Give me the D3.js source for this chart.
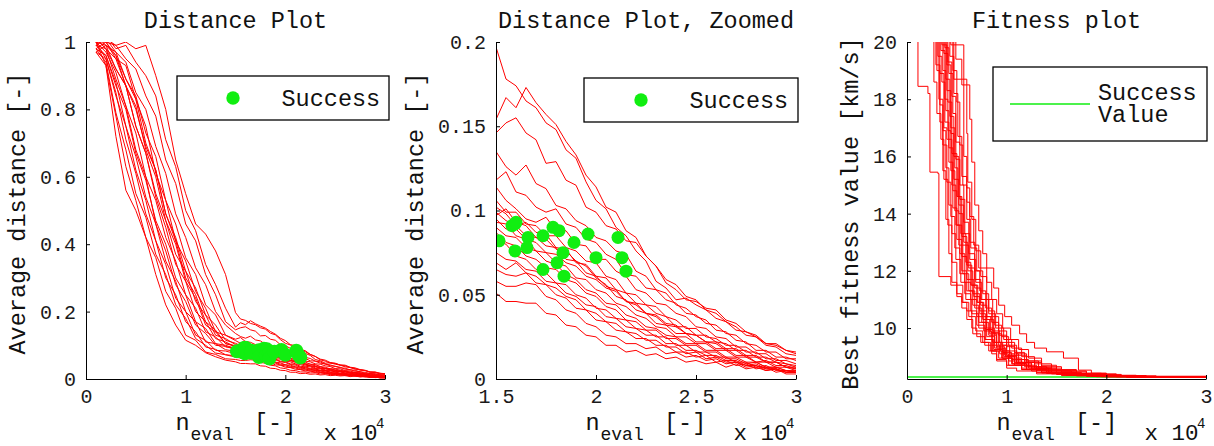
<!DOCTYPE html>
<html>
<head>
<meta charset="utf-8">
<script src="https://cdn.jsdelivr.net/npm/d3@7"></script>
<style>
body { margin: 0; background: #fff; }
svg text { font-family: "Liberation Mono", "Courier New", monospace; fill: #111; }
</style>
</head>
<body>
<div id="chart"></div>
<script>
// number of evaluations, in units of 10^4
var nEval = [0.1, 0.2, 0.3, 0.4, 0.5, 0.6, 0.7, 0.8, 0.9, 1.0, 1.1, 1.2, 1.3, 1.4,
    1.5, 1.55, 1.6, 1.65, 1.7, 1.75, 1.8, 1.85, 1.9, 1.95, 2.0, 2.05, 2.1, 2.15, 2.2, 2.25,
    2.3, 2.35, 2.4, 2.45, 2.5, 2.55, 2.6, 2.65, 2.7, 2.75, 2.8, 2.85, 2.9, 2.95, 3.0];

// average distance of each run, one value per nEval entry
var distRuns = [
  [1.02,1.01,0.99,1.0,0.98,0.99,0.9,0.8,0.65,0.55,0.46,0.43,0.38,0.31, 0.197,0.178,0.174,0.165,0.161,0.152,0.148,0.136,0.131,0.117,0.106,0.101,0.09,0.085,0.076,0.07,0.058,0.054,0.047,0.048,0.044,0.041,0.036,0.034,0.029,0.028,0.025,0.021,0.02,0.017,0.015],
  [1.0,1.02,0.98,0.99,0.94,0.9,0.84,0.71,0.63,0.5,0.44,0.34,0.28,0.21, 0.154,0.167,0.161,0.173,0.164,0.157,0.151,0.141,0.133,0.121,0.114,0.102,0.099,0.088,0.084,0.073,0.067,0.057,0.053,0.047,0.046,0.042,0.041,0.035,0.033,0.028,0.026,0.021,0.021,0.017,0.016],
  [1.03,1.0,0.99,0.95,0.92,0.84,0.78,0.65,0.58,0.46,0.41,0.31,0.25,0.17, 0.146,0.152,0.155,0.146,0.142,0.128,0.129,0.118,0.115,0.102,0.099,0.091,0.089,0.082,0.081,0.073,0.067,0.059,0.056,0.049,0.047,0.041,0.039,0.034,0.031,0.026,0.025,0.02,0.019,0.015,0.014],
  [0.99,1.01,0.97,0.94,0.85,0.8,0.69,0.61,0.49,0.42,0.33,0.28,0.2,0.16, 0.135,0.126,0.121,0.127,0.116,0.113,0.103,0.101,0.094,0.091,0.084,0.082,0.076,0.074,0.064,0.061,0.053,0.051,0.044,0.042,0.037,0.035,0.029,0.028,0.023,0.022,0.017,0.017,0.013,0.013,0.011],
  [1.0,0.99,0.96,0.89,0.84,0.73,0.66,0.53,0.46,0.36,0.31,0.22,0.19,0.13, 0.118,0.123,0.111,0.109,0.102,0.099,0.101,0.092,0.09,0.083,0.081,0.074,0.071,0.062,0.061,0.054,0.053,0.047,0.045,0.039,0.038,0.033,0.032,0.027,0.026,0.021,0.02,0.016,0.016,0.012,0.012],
  [0.98,1.0,0.95,0.93,0.83,0.75,0.61,0.53,0.41,0.35,0.26,0.21,0.14,0.13, 0.114,0.106,0.101,0.095,0.093,0.096,0.088,0.088,0.08,0.079,0.071,0.071,0.064,0.061,0.053,0.051,0.045,0.044,0.039,0.037,0.031,0.03,0.025,0.024,0.019,0.019,0.015,0.015,0.011,0.011,0.009],
  [1.01,0.98,0.95,0.87,0.8,0.69,0.62,0.49,0.42,0.32,0.27,0.19,0.16,0.115, 0.106,0.099,0.099,0.092,0.091,0.085,0.085,0.078,0.076,0.07,0.069,0.061,0.059,0.051,0.05,0.044,0.043,0.037,0.035,0.03,0.03,0.025,0.024,0.02,0.02,0.016,0.016,0.012,0.012,0.009,0.008],
  [0.97,0.99,0.92,0.87,0.75,0.67,0.55,0.47,0.37,0.32,0.23,0.19,0.13,0.12, 0.102,0.098,0.091,0.093,0.087,0.086,0.078,0.077,0.069,0.068,0.061,0.06,0.053,0.051,0.045,0.044,0.039,0.037,0.031,0.031,0.026,0.026,0.022,0.021,0.017,0.017,0.013,0.013,0.01,0.009,0.007],
  [1.0,1.0,0.96,0.87,0.81,0.68,0.6,0.47,0.4,0.29,0.24,0.16,0.14,0.105, 0.099,0.094,0.091,0.085,0.084,0.079,0.078,0.071,0.07,0.063,0.061,0.055,0.053,0.046,0.045,0.039,0.037,0.032,0.031,0.027,0.026,0.022,0.022,0.018,0.018,0.014,0.014,0.01,0.01,0.007,0.007],
  [1.02,0.99,0.97,0.89,0.83,0.7,0.62,0.49,0.41,0.3,0.25,0.17,0.145,0.105, 0.097,0.101,0.093,0.091,0.084,0.083,0.077,0.076,0.07,0.067,0.06,0.056,0.049,0.047,0.041,0.039,0.033,0.032,0.027,0.027,0.022,0.022,0.018,0.018,0.014,0.014,0.01,0.011,0.008,0.008,0.006],
  [0.99,0.98,0.92,0.87,0.75,0.67,0.54,0.45,0.34,0.29,0.2,0.17,0.12,0.11, 0.095,0.089,0.089,0.083,0.081,0.075,0.074,0.069,0.067,0.061,0.059,0.054,0.052,0.046,0.044,0.039,0.038,0.033,0.032,0.027,0.026,0.022,0.021,0.017,0.017,0.013,0.013,0.01,0.01,0.007,0.006],
  [1.0,0.97,0.91,0.81,0.73,0.6,0.53,0.42,0.35,0.25,0.21,0.14,0.125,0.095, 0.093,0.092,0.085,0.083,0.076,0.075,0.069,0.067,0.06,0.059,0.053,0.051,0.045,0.043,0.038,0.036,0.031,0.03,0.025,0.025,0.021,0.021,0.017,0.017,0.013,0.013,0.01,0.01,0.007,0.007,0.005],
  [0.98,0.96,0.87,0.8,0.67,0.59,0.47,0.4,0.3,0.25,0.17,0.15,0.105,0.1, 0.09,0.085,0.084,0.078,0.076,0.07,0.068,0.062,0.059,0.053,0.051,0.045,0.044,0.038,0.036,0.031,0.03,0.026,0.025,0.021,0.021,0.017,0.017,0.013,0.013,0.01,0.01,0.007,0.007,0.005,0.005],
  [1.01,0.98,0.89,0.81,0.68,0.6,0.46,0.38,0.28,0.23,0.16,0.135,0.1,0.097, 0.087,0.081,0.079,0.073,0.071,0.066,0.065,0.059,0.057,0.051,0.049,0.043,0.041,0.035,0.034,0.029,0.029,0.024,0.024,0.02,0.02,0.016,0.016,0.012,0.012,0.009,0.01,0.007,0.007,0.005,0.004],
  [0.99,0.96,0.88,0.75,0.66,0.54,0.46,0.35,0.29,0.2,0.17,0.11,0.105,0.087, 0.082,0.08,0.073,0.071,0.065,0.063,0.057,0.056,0.05,0.048,0.042,0.041,0.036,0.035,0.03,0.029,0.025,0.025,0.02,0.02,0.016,0.016,0.013,0.013,0.01,0.01,0.007,0.008,0.005,0.005,0.004],
  [0.97,0.95,0.84,0.75,0.62,0.53,0.41,0.34,0.24,0.2,0.13,0.115,0.085,0.083, 0.075,0.071,0.07,0.065,0.064,0.058,0.057,0.051,0.049,0.044,0.043,0.037,0.036,0.031,0.03,0.026,0.026,0.021,0.021,0.017,0.017,0.014,0.014,0.011,0.011,0.008,0.009,0.006,0.006,0.004,0.004],
  [1.0,0.95,0.85,0.71,0.61,0.49,0.41,0.3,0.25,0.17,0.14,0.095,0.088,0.072, 0.069,0.065,0.069,0.063,0.061,0.056,0.054,0.049,0.047,0.041,0.039,0.034,0.033,0.028,0.027,0.023,0.023,0.019,0.019,0.015,0.016,0.012,0.013,0.01,0.01,0.008,0.008,0.006,0.006,0.004,0.004],
  [0.98,0.94,0.79,0.68,0.55,0.48,0.37,0.31,0.22,0.18,0.12,0.1,0.077,0.072, 0.065,0.062,0.061,0.063,0.057,0.056,0.05,0.048,0.042,0.041,0.035,0.034,0.029,0.028,0.024,0.024,0.02,0.02,0.016,0.016,0.013,0.014,0.01,0.011,0.008,0.009,0.006,0.007,0.004,0.005,0.004],
  [0.97,0.93,0.78,0.63,0.53,0.42,0.36,0.26,0.21,0.13,0.115,0.08,0.073,0.06, 0.058,0.055,0.055,0.057,0.056,0.049,0.047,0.041,0.039,0.033,0.031,0.026,0.025,0.021,0.021,0.018,0.019,0.015,0.016,0.013,0.014,0.011,0.012,0.009,0.01,0.007,0.008,0.005,0.006,0.003,0.003],
  [1.0,0.93,0.72,0.56,0.5,0.42,0.31,0.22,0.16,0.115,0.1,0.078,0.066,0.056, 0.051,0.046,0.046,0.045,0.045,0.039,0.038,0.032,0.031,0.026,0.025,0.02,0.02,0.016,0.017,0.014,0.015,0.012,0.013,0.01,0.011,0.009,0.01,0.007,0.009,0.006,0.007,0.005,0.006,0.004,0.004]
];

// point where each run reached the success value
var successN    = [1.515, 1.58, 1.595, 1.6, 1.595, 1.66, 1.655, 1.735, 1.735, 1.785, 1.815, 1.805, 1.835, 1.84, 1.89, 1.96, 2.0, 2.11, 2.13, 2.15];
var successDist = [0.082, 0.091, 0.092, 0.093, 0.076, 0.084, 0.078, 0.085, 0.065, 0.09, 0.088, 0.069, 0.075, 0.061, 0.081, 0.086, 0.072, 0.084, 0.072, 0.064];

// best fitness value [km/s] of each run, as [nEval, value] steps
var fitRuns = [
  [[0.1,30],[0.11,18.45],[0.21,18.2],[0.23,15.45],[0.31,15.4],[0.32,11.8],[0.44,11.5],[0.5,11.1],[0.55,10.7],[0.6,10.3],[0.66,9.8],[0.74,9.5],[0.82,9.2],[0.9,8.9],[1.0,8.7],[1.15,8.55],[1.3,8.45],[1.5,8.38],[1.8,8.32],[2.2,8.29],[3.0,8.29]],
  [[0.27,30],[0.29,19.2],[0.33,17.8],[0.36,16.4],[0.4,15.1],[0.44,13.9],[0.48,12.8],[0.53,11.9],[0.58,11.2],[0.64,10.6],[0.7,10.1],[0.78,9.6],[0.86,9.2],[0.95,8.95],[1.05,8.75],[1.2,8.55],[1.4,8.42],[1.6,8.35],[1.9,8.31],[2.3,8.29],[3.0,8.28]],
  [[0.3,30],[0.31,19.5],[0.35,18.6],[0.38,17.2],[0.42,15.8],[0.46,14.2],[0.5,13.1],[0.55,12.0],[0.6,11.3],[0.66,10.8],[0.72,10.2],[0.8,9.7],[0.88,9.3],[0.97,9.0],[1.08,8.7],[1.25,8.5],[1.45,8.4],[1.7,8.33],[2.0,8.3],[3.0,8.29]],
  [[0.32,30],[0.33,18.9],[0.37,17.0],[0.4,16.6],[0.45,15.0],[0.49,13.6],[0.53,12.6],[0.58,11.6],[0.64,11.0],[0.7,10.4],[0.77,9.9],[0.85,9.4],[0.93,9.1],[1.02,8.85],[1.15,8.6],[1.35,8.45],[1.55,8.37],[1.85,8.31],[2.2,8.29],[3.0,8.28]],
  [[0.34,30],[0.35,19.9],[0.4,18.3],[0.44,16.8],[0.47,15.2],[0.52,14.0],[0.56,12.9],[0.62,12.1],[0.68,11.4],[0.74,10.8],[0.8,10.3],[0.87,9.8],[0.95,9.4],[1.03,9.1],[1.12,8.8],[1.28,8.6],[1.45,8.45],[1.7,8.36],[2.05,8.31],[3.0,8.29]],
  [[0.36,30],[0.37,19.6],[0.41,17.9],[0.45,16.1],[0.5,14.6],[0.54,13.3],[0.59,12.3],[0.64,11.5],[0.7,10.9],[0.76,10.3],[0.83,9.8],[0.9,9.3],[0.99,9.0],[1.1,8.75],[1.25,8.55],[1.45,8.42],[1.7,8.34],[2.1,8.3],[3.0,8.28]],
  [[0.38,30],[0.39,18.7],[0.43,17.4],[0.47,16.0],[0.52,14.3],[0.57,13.0],[0.61,12.0],[0.66,11.2],[0.73,10.6],[0.8,10.0],[0.88,9.5],[0.96,9.15],[1.05,8.9],[1.18,8.65],[1.35,8.5],[1.55,8.4],[1.8,8.33],[2.2,8.3],[3.0,8.29]],
  [[0.4,30],[0.41,19.3],[0.45,18.1],[0.49,16.5],[0.53,15.0],[0.57,13.7],[0.62,12.6],[0.68,11.7],[0.74,11.0],[0.8,10.4],[0.86,9.9],[0.93,9.5],[1.0,9.2],[1.1,8.9],[1.22,8.65],[1.4,8.5],[1.65,8.38],[1.95,8.32],[2.4,8.29],[3.0,8.28]],
  [[0.43,30],[0.44,19.9],[0.47,18.7],[0.6,16.8],[0.61,15.1],[0.65,13.8],[0.69,12.7],[0.74,11.8],[0.8,11.0],[0.86,10.4],[0.92,9.9],[1.0,9.5],[1.08,9.15],[1.18,8.85],[1.32,8.6],[1.5,8.45],[1.75,8.36],[2.1,8.31],[3.0,8.29]],
  [[0.46,30],[0.47,19.9],[0.57,16.0],[0.6,14.9],[0.63,13.9],[0.67,12.9],[0.72,12.1],[0.87,11.4],[0.92,10.8],[0.98,10.4],[1.05,10.1],[1.13,9.8],[1.2,9.5],[1.28,9.3],[1.4,9.17],[1.57,8.95],[1.72,8.53],[1.85,8.42],[2.0,8.35],[2.3,8.3],[3.0,8.29]],
  [[0.48,30],[0.49,19.4],[0.55,18.5],[0.63,17.3],[0.65,15.8],[0.68,14.3],[0.72,13.4],[0.76,12.6],[0.8,11.6],[0.85,11.0],[0.9,10.5],[0.96,10.0],[1.04,9.6],[1.12,9.25],[1.22,8.95],[1.35,8.7],[1.5,8.52],[1.7,8.42],[1.95,8.34],[2.3,8.3],[3.0,8.29]],
  [[0.31,30],[0.32,18.0],[0.36,16.9],[0.39,15.6],[0.42,14.3],[0.45,13.3],[0.49,12.4],[0.54,11.6],[0.59,11.0],[0.65,10.5],[0.72,10.0],[0.79,9.6],[0.87,9.25],[0.96,8.95],[1.06,8.75],[1.2,8.55],[1.4,8.43],[1.65,8.35],[2.0,8.3],[3.0,8.28]],
  [[0.29,30],[0.3,19.0],[0.33,17.2],[0.36,15.5],[0.39,13.8],[0.42,12.6],[0.45,11.6],[0.5,11.2],[0.55,10.9],[0.6,10.6],[0.65,10.0],[0.7,9.7],[0.78,9.4],[0.85,9.1],[0.9,8.85],[1.0,8.6],[1.1,8.5],[1.3,8.4],[1.55,8.34],[1.9,8.3],[3.0,8.28]],
  [[0.33,30],[0.34,19.7],[0.38,18.0],[0.41,16.9],[0.44,15.5],[0.48,14.1],[0.52,12.9],[0.56,11.9],[0.62,11.3],[0.68,10.7],[0.75,10.2],[0.82,9.75],[0.9,9.35],[0.98,9.05],[1.08,8.8],[1.22,8.6],[1.42,8.46],[1.68,8.37],[2.0,8.31],[3.0,8.29]],
  [[0.35,30],[0.36,19.0],[0.39,17.6],[0.42,16.3],[0.46,14.8],[0.5,13.6],[0.55,12.5],[0.6,11.7],[0.67,11.1],[0.73,10.5],[0.79,9.95],[0.86,9.5],[0.94,9.2],[1.03,8.95],[1.15,8.7],[1.3,8.52],[1.5,8.4],[1.8,8.33],[2.2,8.29],[3.0,8.28]],
  [[0.37,30],[0.38,19.8],[0.42,18.9],[0.46,17.5],[0.49,15.9],[0.53,14.5],[0.58,13.3],[0.63,12.4],[0.69,11.6],[0.75,11.0],[0.82,10.5],[0.89,10.0],[0.97,9.6],[1.05,9.3],[1.15,9.0],[1.28,8.75],[1.45,8.55],[1.7,8.42],[2.0,8.34],[2.4,8.3],[3.0,8.29]],
  [[0.39,30],[0.4,19.2],[0.44,17.0],[0.48,15.6],[0.51,14.6],[0.55,13.2],[0.6,12.2],[0.65,11.5],[0.71,10.9],[0.77,10.4],[0.84,9.85],[0.92,9.4],[1.0,9.05],[1.1,8.8],[1.25,8.6],[1.45,8.45],[1.7,8.36],[2.1,8.3],[3.0,8.29]],
  [[0.42,30],[0.43,19.5],[0.47,18.2],[0.51,16.7],[0.55,15.3],[0.6,14.4],[0.63,13.0],[0.68,12.0],[0.73,11.3],[0.79,10.7],[0.85,10.2],[0.92,9.75],[1.0,9.35],[1.08,9.05],[1.2,8.8],[1.35,8.6],[1.55,8.47],[1.8,8.38],[2.15,8.31],[3.0,8.29]],
  [[0.26,30],[0.27,18.6],[0.3,17.5],[0.34,16.6],[0.37,15.2],[0.41,13.6],[0.45,12.3],[0.5,11.5],[0.56,10.9],[0.62,10.4],[0.69,9.9],[0.76,9.5],[0.84,9.2],[0.92,8.95],[1.02,8.7],[1.15,8.55],[1.35,8.43],[1.6,8.35],[1.95,8.3],[3.0,8.28]],
  [[0.45,30],[0.46,19.0],[0.5,17.9],[0.53,16.4],[0.56,15.0],[0.6,13.8],[0.64,12.8],[0.7,12.0],[0.76,11.2],[0.82,10.6],[0.88,10.1],[0.95,9.7],[1.02,9.4],[1.1,9.1],[1.2,8.85],[1.35,8.65],[1.55,8.5],[1.8,8.4],[2.1,8.33],[2.5,8.3],[3.0,8.29]]
];
var successValue = 8.29;

// tick values
var distXTicks = [0, 1, 2, 3];
var distYTicks = [0, 0.2, 0.4, 0.6, 0.8, 1];
var zoomXTicks = [1.5, 2, 2.5, 3];
var zoomYTicks = [0, 0.05, 0.1, 0.15, 0.2];
var fitXTicks = [0, 1, 2, 3];
var fitYTicks = [10, 12, 14, 16, 18, 20];

var RED = "#ff0000", GREEN = "#11ee11";

var svg = d3.select("#chart").append("svg")
    .attr("width", 1214)
    .attr("height", 446);

function makePanel(cfg){
    var p = {};
    p.x = d3.scaleLinear().domain(cfg.xDomain).range([cfg.left, cfg.right]);
    p.y = d3.scaleLinear().domain(cfg.yDomain).range([379, 42]);

    svg.append("clipPath").attr("id", "clip" + cfg.id)
      .append("rect")
        .attr("x", cfg.left).attr("y", 42)
        .attr("width", cfg.right - cfg.left).attr("height", 379 - 42);

    p.plot = svg.append("g").attr("clip-path", "url(#clip" + cfg.id + ")");

    var xAxis = svg.append("g")
        .attr("transform", "translate(0,379)")
        .call(d3.axisBottom(p.x).tickValues(cfg.xTicks).tickSizeInner(-4).tickSizeOuter(0)
              .tickPadding(10).tickFormat(function(d){ return String(d); }));
    var yAxis = svg.append("g")
        .attr("transform", "translate(" + cfg.left + ",0)")
        .call(d3.axisLeft(p.y).tickValues(cfg.yTicks).tickSizeInner(-4).tickSizeOuter(0)
              .tickPadding(10).tickFormat(function(d){ return String(d); }));
    [xAxis, yAxis].forEach(function(a){
        a.attr("font-family", null).attr("font-size", 20).attr("color", "#000");
        a.selectAll("text").style("fill", "#1a1a1a");
    });

    svg.append("text")
        .attr("x", (cfg.left + cfg.right) / 2)
        .attr("y", 28)
        .attr("text-anchor", "middle")
        .style("font-size", "23.5px")
        .text(cfg.title);

    svg.append("text")
        .attr("transform", "translate(" + cfg.yLabelX + ",213.5) rotate(-90)")
        .attr("text-anchor", "middle")
        .style("font-size", "23.5px")
        .text(cfg.yLabel);

    // x label: n_eval [-]   x 10^4
    var L = cfg.left;
    svg.append("text").attr("x", L + 89.5).attr("y", 430).style("font-size", "23.5px").text("n");
    svg.append("text").attr("x", L + 104.5).attr("y", 440).style("font-size", "18px").text("eval");
    svg.append("text").attr("x", L + 168).attr("y", 430).style("font-size", "23.5px").text("[-]");
    svg.append("text").attr("x", L + 237.5).attr("y", 439.5).style("font-size", "22.5px").text("x 10");
    svg.append("text").attr("x", L + 290).attr("y", 428).style("font-size", "14px").text("4");

    return p;
}

var line = d3.line();

// ---- Distance plot
var p1 = makePanel({ id: 1, left: 86, right: 385, xDomain: [0, 3], yDomain: [0, 1],
    xTicks: distXTicks, yTicks: distYTicks, title: "Distance Plot",
    yLabel: "Average distance [-]", yLabelX: 25 });

p1.plot.selectAll(".run")
    .data(distRuns)
  .enter().append("path")
    .attr("class", "run")
    .attr("fill", "none")
    .attr("stroke", RED)
    .attr("stroke-width", 1)
    .attr("d", function(r){ return line(r.map(function(v, i){ return [p1.x(nEval[i]), p1.y(v)]; })); });

p1.plot.selectAll(".succ")
    .data(successN)
  .enter().append("circle")
    .attr("class", "succ")
    .attr("cx", function(d){ return p1.x(d); })
    .attr("cy", function(d, i){ return p1.y(successDist[i]); })
    .attr("r", 7)
    .attr("fill", GREEN);

// ---- Distance plot, zoomed
var p2 = makePanel({ id: 2, left: 496, right: 796, xDomain: [1.5, 3], yDomain: [0, 0.2],
    xTicks: zoomXTicks, yTicks: zoomYTicks, title: "Distance Plot, Zoomed",
    yLabel: "Average distance [-]", yLabelX: 423 });

p2.plot.selectAll(".run")
    .data(distRuns)
  .enter().append("path")
    .attr("class", "run")
    .attr("fill", "none")
    .attr("stroke", RED)
    .attr("stroke-width", 1)
    .attr("d", function(r){ return line(r.map(function(v, i){ return [p2.x(nEval[i]), p2.y(v)]; })); });

p2.plot.selectAll(".succ")
    .data(successN)
  .enter().append("circle")
    .attr("class", "succ")
    .attr("cx", function(d){ return p2.x(d); })
    .attr("cy", function(d, i){ return p2.y(successDist[i]); })
    .attr("r", 6.5)
    .attr("fill", GREEN);

// ---- Fitness plot
var p3 = makePanel({ id: 3, left: 907, right: 1206, xDomain: [0, 3], yDomain: [8.22, 20],
    xTicks: fitXTicks, yTicks: fitYTicks, title: "Fitness plot",
    yLabel: "Best fitness value [km/s]", yLabelX: 858 });

p3.plot.append("line")
    .attr("x1", p3.x(0)).attr("x2", p3.x(3))
    .attr("y1", p3.y(successValue)).attr("y2", p3.y(successValue))
    .attr("stroke", GREEN)
    .attr("stroke-width", 1.5);

var stepLine = d3.line()
    .x(function(d){ return p3.x(d[0]); })
    .y(function(d){ return p3.y(d[1]); })
    .curve(d3.curveStepAfter);

p3.plot.selectAll(".run")
    .data(fitRuns)
  .enter().append("path")
    .attr("class", "run")
    .attr("fill", "none")
    .attr("stroke", RED)
    .attr("stroke-width", 1)
    .attr("d", stepLine);

// ---- legends
function legendBox(x, y, w, h){
    svg.append("rect")
        .attr("x", x).attr("y", y).attr("width", w).attr("height", h)
        .attr("fill", "#fff").attr("stroke", "#000").attr("stroke-width", 1.3);
}

legendBox(177, 76, 212, 44);
svg.append("circle").attr("cx", 233).attr("cy", 98).attr("r", 6.7).attr("fill", GREEN);
svg.append("text").attr("x", 281.5).attr("y", 106).style("font-size", "23.5px").text("Success");

legendBox(584, 78, 214, 44);
svg.append("circle").attr("cx", 641).attr("cy", 100).attr("r", 6.7).attr("fill", GREEN);
svg.append("text").attr("x", 689.5).attr("y", 108).style("font-size", "23.5px").text("Success");

legendBox(993, 67, 214, 74);
svg.append("line").attr("x1", 1010).attr("x2", 1090).attr("y1", 104).attr("y2", 104)
    .attr("stroke", GREEN).attr("stroke-width", 1.5);
svg.append("text").attr("x", 1098).attr("y", 100).style("font-size", "23.5px").text("Success");
svg.append("text").attr("x", 1098).attr("y", 122).style("font-size", "23.5px").text("Value");
</script>
</body>
</html>
